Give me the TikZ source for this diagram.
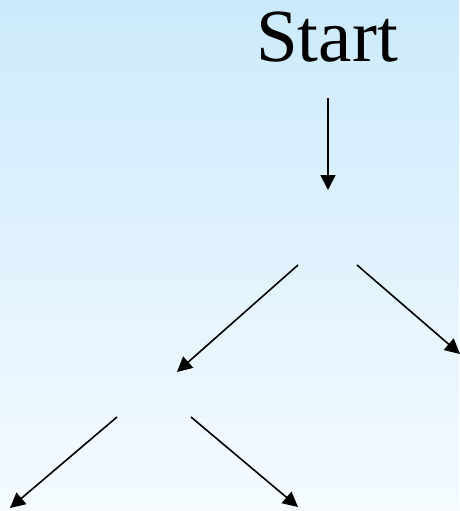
\documentclass[tikz,border=0pt]{standalone}
\usepackage{fontspec}
\setmainfont{Liberation Serif}
\usetikzlibrary{arrows.meta}
\definecolor{skytop}{RGB}{204,234,252}
\definecolor{skybottom}{RGB}{245,251,255}
\tikzset{
  flow/.style={line width=1.6pt, -{Triangle[length=15pt,width=15pt]}},
  title/.style={font=\fontsize{75}{90}\selectfont, inner sep=0pt, anchor=base}
}
\begin{document}
\begin{tikzpicture}[x=1pt,y=-1pt]
  % background with vertical blue-to-white shading
  \shade[top color=skytop, bottom color=skybottom] (0,0) rectangle (459,511);
  \useasboundingbox (0,0) rectangle (459,511);

  \node[title] (start) at (327,62) {Start};

  % arrow end points
  \coordinate (s0) at (328,98);
  \coordinate (s1) at (328,190);
  \coordinate (a0) at (298,265);
  \coordinate (a1) at (177,372);
  \coordinate (b0) at (357,265);
  \coordinate (b1) at (460,354);
  \coordinate (c0) at (117,417);
  \coordinate (c1) at (10,508);
  \coordinate (d0) at (191,417);
  \coordinate (d1) at (298,507);

  \draw[flow] (s0) -- (s1);
  \draw[flow] (a0) -- (a1);
  \draw[flow] (b0) -- (b1);
  \draw[flow] (c0) -- (c1);
  \draw[flow] (d0) -- (d1);
\end{tikzpicture}
\end{document}
